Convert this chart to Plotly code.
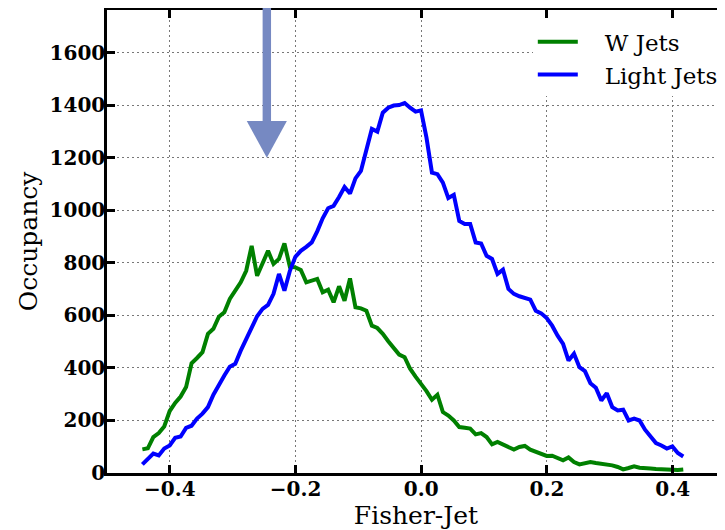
import numpy as np
import plotly.graph_objects as go

# Histogram bin grid (100 bins)
bin_first = -0.4437
bin_last = 0.4169
n_bins = 100
fisher_x = np.linspace(bin_first, bin_last, n_bins)

w_jets = [90, 94, 137, 152, 177, 236, 267, 291, 327, 418,
          438, 460, 530, 549, 595, 612, 663, 694, 726, 770,
          865, 751, 802, 846, 796, 815, 874, 785, 783, 773,
          726, 732, 739, 688, 698, 650, 711, 656, 741, 631,
          627, 618, 561, 552, 530, 502, 476, 451, 441, 397,
          367, 340, 312, 279, 298, 232, 219, 200, 175, 172,
          169, 147, 152, 137, 109, 118, 109, 96, 89, 99,
          103, 89, 80, 74, 65, 66, 55, 48, 59, 42,
          33, 38, 42, 38, 36, 32, 29, 23, 14, 19,
          25, 20, 17, 17, 15, 14, 13, 10, 11, 13]

light_jets = [33, 52, 74, 67, 93, 105, 134, 139, 172, 180,
              207, 226, 251, 298, 331, 371, 405, 416, 466, 511,
              548, 597, 625, 640, 682, 758, 694, 770, 823, 846,
              861, 878, 920, 970, 1008, 1017, 1051, 1089, 1064, 1122,
              1150, 1230, 1310, 1300, 1372, 1391, 1399, 1401, 1409, 1391,
              1376, 1381, 1277, 1144, 1138, 1106, 1047, 1059, 960, 948,
              948, 878, 874, 827, 815, 758, 774, 701, 682, 673,
              666, 660, 618, 608, 590, 561, 523, 492, 428, 454,
              403, 388, 342, 325, 276, 304, 251, 238, 241, 200,
              207, 200, 165, 139, 114, 105, 93, 101, 76, 63]

series_names = ["W Jets", "Light Jets"]
x_ticks = [-0.4, -0.2, 0.0, 0.2, 0.4]
y_ticks = [0, 200, 400, 600, 800, 1000, 1200, 1400, 1600]
x_range = [-0.5, 0.4833]
y_range = [0, 1763]

# Arrow marker (annotation)
arrow_x = -0.2457
arrow_tip = 1200
arrow_head_base = 1340
arrow_color = "#7689c2"

SERIF = "DejaVu Serif"
GAP = "\u00a0\u00a0\u00a0"

fig = go.Figure()
fig.add_trace(go.Scatter(x=fisher_x, y=w_jets, mode="lines", name=GAP + series_names[0],
                         line=dict(color="#008000", width=4)))
fig.add_trace(go.Scatter(x=fisher_x, y=light_jets, mode="lines", name=GAP + series_names[1],
                         line=dict(color="#0000ff", width=4)))

shaft_half = 0.0067
head_half = 0.0319
ypaper = lambda v: (v - y_range[0]) / (y_range[1] - y_range[0])
fig.add_shape(type="rect", xref="x", yref="paper",
              x0=arrow_x - shaft_half, x1=arrow_x + shaft_half,
              y0=ypaper(arrow_head_base) - 0.002, y1=1.1,
              fillcolor=arrow_color, line=dict(width=0), layer="above")
fig.add_shape(type="path", xref="x", yref="y",
              path=f"M {arrow_x - head_half},{arrow_head_base} L {arrow_x + head_half},{arrow_head_base} L {arrow_x},{arrow_tip} Z",
              fillcolor=arrow_color, line=dict(width=0), layer="above")

axis_common = dict(
    showline=True, linecolor="black", linewidth=2.5,
    ticks="inside", ticklen=8, tickwidth=2.5, tickcolor="black",
    showgrid=True, gridcolor="#777777", griddash="2px,3px", gridwidth=1.2,
    zeroline=False,
    tickfont=dict(family=SERIF, size=20, color="black", weight="bold"),
)

# page has an 8px body margin: figure sized to fill the remaining window
fig.update_layout(
    width=717, height=522,
    margin=dict(l=99, r=0, t=2, b=57.3),
    paper_bgcolor="white", plot_bgcolor="white",
    xaxis=dict(range=x_range, tickvals=x_ticks, tickformat=".1f",
               mirror="ticks", ticklabelstandoff=-4,
               title=dict(text="Fisher-Jet", font=dict(family=SERIF, size=25, color="black"), standoff=12),
               **axis_common),
    yaxis=dict(range=y_range, tickvals=y_ticks,
               mirror=False, ticklabelstandoff=-5,
               title=dict(text="Occupancy", font=dict(family=SERIF, size=25, color="black"), standoff=5),
               **axis_common),
    legend=dict(x=0.689, y=0.978, xanchor="left", yanchor="top",
                bgcolor="white", borderwidth=0, itemwidth=40,
                font=dict(family=SERIF, size=23, color="black")),
    showlegend=True,
)

fig.write_html("out.html")
